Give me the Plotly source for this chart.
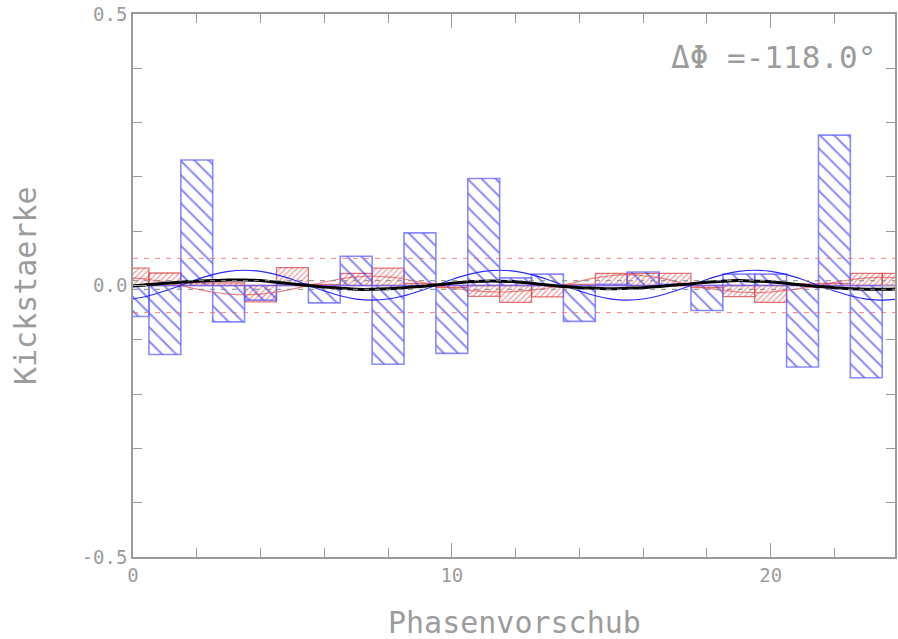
import plotly.graph_objects as go

# ---- data ----
bar_x = list(range(0, 25))
blue_bars = [-0.057, -0.127, 0.231, -0.067, -0.027, 0.003, -0.032, 0.054, -0.145, 0.097,
             -0.125, 0.197, 0.014, 0.021, -0.066, 0.002, 0.025, 0.002, -0.046, 0.021,
             0.021, -0.150, 0.277, -0.170, 0.0]
red_bars = [0.032, 0.023, 0.005, 0.005, -0.030, 0.033, 0.002, 0.0225, 0.032, 0.004,
            -0.004, -0.020, -0.031, -0.021, 0.002, 0.0225, 0.0225, 0.0225, -0.004, -0.0205,
            -0.031, 0.003, 0.004, 0.0225, 0.0225]

curve_x = [i * 0.5 for i in range(49)]
blue_curve = [-0.025, -0.019, -0.010, 0.000, 0.011, 0.020, 0.026, 0.028, 0.026, 0.020,
              0.011, 0.000, -0.010, -0.019, -0.025, -0.027, -0.025, -0.019, -0.010, 0.000,
              0.011, 0.020, 0.026, 0.028, 0.026, 0.020, 0.011, 0.000, -0.010, -0.019,
              -0.025, -0.027, -0.025, -0.019, -0.010, 0.000, 0.011, 0.020, 0.026, 0.028,
              0.026, 0.020, 0.011, 0.000, -0.010, -0.019, -0.025, -0.027, -0.025]
red_curve = [0.014, 0.011, 0.006, 0.000, -0.0065, -0.012, -0.0157, -0.017, -0.0157, -0.012,
             -0.0065, 0.000, 0.0065, 0.012, 0.0157, 0.017, 0.0157, 0.012, 0.0065, 0.000,
             -0.0046, -0.0085, -0.011, -0.012, -0.011, -0.0085, -0.0046, 0.000, 0.0077, 0.014,
             0.018, 0.020, 0.018, 0.014, 0.0077, 0.000, -0.005, -0.009, -0.012, -0.013,
             -0.012, -0.009, -0.005, 0.000, 0.0057, 0.0106, 0.0139, 0.015, 0.0139]
black_curve = [-0.001, 0.002, 0.004, 0.006, 0.008, 0.009, 0.010, 0.010, 0.009, 0.006,
               0.003, 0.000, -0.003, -0.005, -0.007, -0.007, -0.006, -0.004, -0.002, 0.001,
               0.004, 0.007, 0.008, 0.008, 0.007, 0.004, 0.001, -0.002, -0.004, -0.005,
               -0.006, -0.005, -0.004, -0.002, 0.001, 0.003, 0.006, 0.008, 0.009, 0.008,
               0.007, 0.004, 0.001, -0.002, -0.004, -0.006, -0.007, -0.007, -0.006]

red_limits = [0.05, -0.05]
gray_limits = [0.009, -0.007]

y_tickvals = [-0.5, 0.0, 0.5]
y_ticktext = ["-0.5", "0.0", "0.5"]
x_label = "Phasenvorschub"
y_label = "Kickstaerke"
phase_text = "ΔΦ =-118.0°"

FONT = "DejaVu Sans Mono"
GRAY = "#9c9c9c"
AX = "#9a9a9a"

fig = go.Figure()

fig.add_trace(go.Bar(
    x=bar_x, y=red_bars, width=1.0,
    marker=dict(color="rgba(0,0,0,0)",
                line=dict(color="rgba(215,60,60,0.7)", width=1.3),
                pattern=dict(shape="/", size=4, solidity=0.3,
                             fgcolor="rgba(220,40,40,0.95)", bgcolor="rgba(0,0,0,0)")),
    showlegend=False))

fig.add_trace(go.Bar(
    x=bar_x, y=blue_bars, width=1.0,
    marker=dict(color="rgba(0,0,0,0)",
                line=dict(color="rgba(100,100,255,0.75)", width=1.6),
                pattern=dict(shape="\\", size=10, solidity=0.2,
                             fgcolor="rgb(20,20,250)", bgcolor="rgba(0,0,0,0)")),
    showlegend=False))

fig.add_trace(go.Scatter(x=curve_x, y=red_curve, mode="lines",
                         line=dict(color="rgba(225,90,90,0.75)", width=1.2, shape="spline"),
                         showlegend=False))
fig.add_trace(go.Scatter(x=curve_x, y=blue_curve, mode="lines",
                         line=dict(color="rgba(30,30,255,0.95)", width=1.1, shape="spline"),
                         showlegend=False))
fig.add_trace(go.Scatter(x=curve_x, y=black_curve, mode="lines",
                         line=dict(color="black", width=3, shape="spline"),
                         showlegend=False))

for v in red_limits:
    fig.add_shape(type="line", xref="paper", yref="y", x0=0, x1=1, y0=v, y1=v,
                  line=dict(color="rgba(240,110,110,0.85)", width=1, dash="5px,6px"))
for v in gray_limits:
    fig.add_shape(type="line", xref="paper", yref="y", x0=0, x1=1, y0=v, y1=v,
                  line=dict(color="rgba(140,140,140,0.85)", width=1.2, dash="5px,6px"))

fig.update_layout(
    width=898, height=639,
    margin=dict(l=133, r=1, t=14, b=82),
    paper_bgcolor="white", plot_bgcolor="white",
    barmode="overlay",
    font=dict(family=FONT, color=GRAY),
    xaxis=dict(range=[0, 23.9], showgrid=False, zeroline=False,
               showline=True, linecolor=AX, linewidth=1.5, mirror="ticks",
               ticks="inside", ticklen=14, tickcolor=AX, tickwidth=1,
               tick0=0, dtick=10, tickfont=dict(family=FONT, size=19, color=GRAY),
               minor=dict(tickmode="linear", tick0=0, dtick=2, ticks="inside",
                          ticklen=9, tickcolor=AX, tickwidth=1)),
    yaxis=dict(range=[-0.5, 0.5], showgrid=False, zeroline=False,
               showline=True, linecolor=AX, linewidth=1.5, mirror="ticks",
               ticks="inside", ticklen=14, tickcolor=AX, tickwidth=1,
               tickmode="array", tickvals=y_tickvals, ticktext=y_ticktext,
               tickfont=dict(family=FONT, size=19, color=GRAY),
               minor=dict(tickmode="linear", tick0=0, dtick=0.1, ticks="inside",
                          ticklen=9, tickcolor=AX, tickwidth=1)),
    annotations=[
        dict(text=x_label, xref="paper", yref="paper", x=0.5, y=-0.12,
             xanchor="center", yanchor="middle", showarrow=False,
             font=dict(family=FONT, size=30, color=GRAY)),
        dict(text=y_label, xref="paper", yref="paper", x=-0.141, y=0.5,
             xanchor="center", yanchor="middle", showarrow=False, textangle=-90,
             font=dict(family=FONT, size=30, color=GRAY)),
        dict(text=phase_text, xref="paper", yref="paper", x=0.978, y=0.921,
             xanchor="right", yanchor="middle", showarrow=False,
             font=dict(family=FONT, size=31, color=GRAY)),
    ],
)

fig.write_html(
    "out.html",
    config={"displayModeBar": False},
    post_script="document.body.style.margin='0';document.body.style.overflow='hidden';",
)
